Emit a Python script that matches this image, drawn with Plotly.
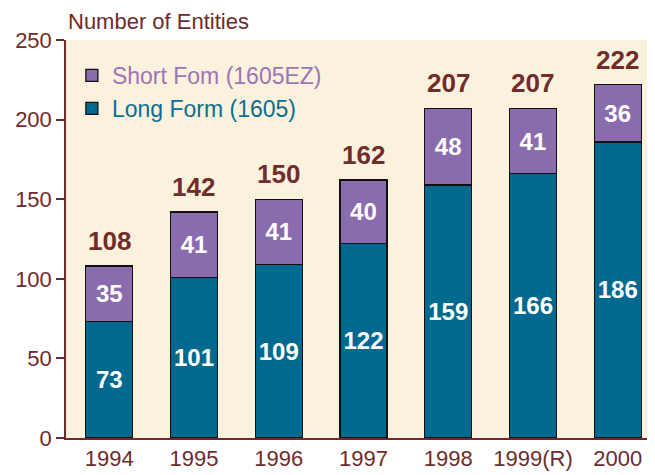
import plotly.graph_objects as go

years = ["1994", "1995", "1996", "1997", "1998", "1999(R)", "2000"]
long_form = [73, 101, 109, 122, 159, 166, 186]
short_form = [35, 41, 41, 40, 48, 41, 36]
totals = [108, 142, 150, 162, 207, 207, 222]
y_ticks = [0, 50, 100, 150, 200, 250]

BROWN = "#6E2B2B"
BLUE = "#00698F"
PURPLE = "#8A6BAD"
FONT = "Liberation Sans, Arial, sans-serif"

fig = go.Figure()
fig.add_trace(go.Bar(
    x=years, y=long_form,
    name="<span style='color:#0B6D93'>Long Form (1605)</span>",
    legendgroup="long",
    marker=dict(color=BLUE, line=dict(color="#111111", width=1.3)),
    text=[str(v) for v in long_form], textposition="inside",
    insidetextanchor="middle", constraintext="none",
    textfont=dict(color="white", size=24, family=FONT, weight="bold"),
))
fig.add_trace(go.Bar(
    x=years, y=short_form,
    name="<span style='color:#A072B8'>Short Fom (1605EZ)</span>",
    legendgroup="short",
    marker=dict(color=PURPLE, line=dict(color="#111111", width=1.3)),
    text=[str(v) for v in short_form], textposition="inside",
    insidetextanchor="middle", constraintext="none",
    textfont=dict(color="white", size=24, family=FONT, weight="bold"),
))

for i, t in enumerate(totals):
    fig.add_annotation(x=i, y=t, text=f"<b>{t}</b>", showarrow=False,
                       yanchor="bottom", yshift=8,
                       font=dict(color="#722C2C", size=26, family=FONT))

fig.add_annotation(xref="paper", yref="paper", x=0, y=1, xanchor="left",
                   yanchor="bottom", yshift=4, text="Number of Entities",
                   showarrow=False, font=dict(color=BROWN, size=22, family=FONT))

fig.update_layout(
    template="none",
    width=647, height=467,
    margin=dict(l=58, r=0, t=32, b=37, autoexpand=False),
    paper_bgcolor="white", plot_bgcolor="#FAF2DC",
    barmode="stack", bargap=0.445,
    font=dict(family=FONT, color=BROWN),
    showlegend=True,
    legend=dict(x=0.01, y=0.965, xanchor="left", yanchor="top",
                traceorder="reversed", tracegroupgap=4,
                bgcolor="rgba(0,0,0,0)", font=dict(size=23, family=FONT)),
)
fig.update_xaxes(type="category", range=[-0.51, 6.44], showline=True, linecolor=BROWN,
                 linewidth=1.5, ticks="", tickfont=dict(size=22, color=BROWN),
                 showgrid=False, automargin=False, zeroline=False)
fig.update_yaxes(range=[0, 250], tickvals=y_ticks, showline=True, linecolor=BROWN,
                 linewidth=1.5, ticks="outside", ticklen=8, tickcolor=BROWN,
                 tickwidth=1.5, tickfont=dict(size=22, color=BROWN), showgrid=False,
                 zeroline=False, automargin=False)

fig.write_html("out.html")
